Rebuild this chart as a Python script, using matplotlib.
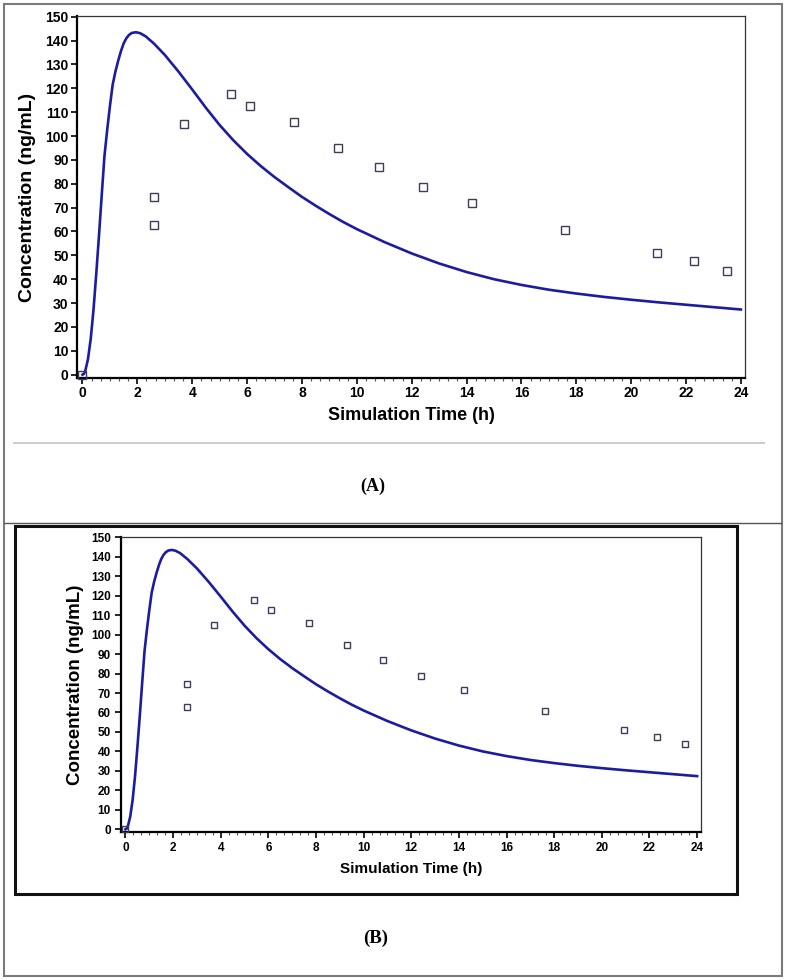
import matplotlib
matplotlib.use("Agg")
import matplotlib.pyplot as plt
from matplotlib.lines import Line2D
from matplotlib.patches import Rectangle
from matplotlib.ticker import AutoMinorLocator

# ---------------- data ----------------
time_sim = [0, 0.05, 0.1, 0.2, 0.3, 0.4, 0.5, 0.6, 0.7, 0.8, 0.9, 1.0, 1.1, 1.2, 1.3,
            1.4, 1.5, 1.6, 1.7, 1.8, 1.95, 2.1, 2.3, 2.6, 3.0, 3.5, 4.0, 4.5, 5.0,
            5.5, 6.0, 6.5, 7.0, 7.5, 8.0, 8.5, 9.0, 9.5, 10, 11, 12, 13, 14,
            15, 16, 17, 18, 19, 20, 21, 22, 23, 24]
conc_sim = [0, 0.3, 1.5, 6.5, 15, 27, 42, 58, 75, 91.5, 102.5, 112.5, 121.5, 127, 131.5,
            135.5, 138.8, 141, 142.4, 143.2, 143.5, 143.1, 141.8, 138.8, 134, 127, 119.5, 111.8, 104.6,
            98.2, 92.5, 87.4, 82.8, 78.6, 74.5, 70.8, 67.3, 64.0, 61.0, 55.6, 50.8, 46.6, 43.0,
            40.0, 37.6, 35.6, 34.0, 32.6, 31.4, 30.3, 29.3, 28.3, 27.3]

time_obs = [0, 2.6, 2.6, 3.7, 5.4, 6.1, 7.7, 9.3, 10.8, 12.4, 14.2, 17.6, 20.95, 22.3, 23.5]
conc_obs = [0, 74.5, 62.8, 105, 117.8, 112.5, 106, 94.8, 87.2, 78.5, 71.8, 60.8, 50.8, 47.6, 43.6]

x_ticks = list(range(0, 25, 2))
y_ticks = list(range(0, 151, 10))
panel_labels = ["(A)", "(B)"]
x_label = "Simulation Time (h)"
y_label = "Concentration (ng/mL)"

# ---------------- style ----------------
plt.rcParams['font.family'] = ['Liberation Sans', 'DejaVu Sans']
plt.rcParams['font.weight'] = 'bold'

W, H = 787, 980
fig = plt.figure(figsize=(W / 100, H / 100), dpi=100)
fig.patch.set_facecolor('white')


def fx(px):
    return px / W


def fy(py):
    return 1 - py / H


def hline(x0, x1, y, color, lw):
    fig.add_artist(Line2D([fx(x0), fx(x1)], [fy(y), fy(y)], transform=fig.transFigure,
                          color=color, lw=lw, solid_capstyle='butt'))


line_color = '#1c1ca0'
marker_edge = '#3c3c5c'


def make_panel(rect_px, tick_fs, xl_fs, yl_fs, msize, ylab_x, xlab_pad, tick_pad):
    l, t, r, b = rect_px
    ax = fig.add_axes([fx(l), fy(b), fx(r - l), (b - t) / H])
    ax.plot(time_sim, conc_sim, color=line_color, lw=1.9, zorder=3,
            solid_joinstyle='round')
    ax.plot(time_obs, conc_obs, linestyle='none', marker='s', markersize=msize,
            markerfacecolor='none', markeredgecolor=marker_edge, markeredgewidth=1.0,
            clip_on=False, zorder=4)
    ax.set_xlim(-0.2, 24.15)
    ax.set_ylim(-1.4, 150.3)
    ax.set_xticks(x_ticks)
    ax.set_yticks(y_ticks)
    ax.xaxis.set_minor_locator(AutoMinorLocator(6))
    ax.tick_params(axis='both', which='major', direction='out', length=4, width=1.2,
                   labelsize=tick_fs, pad=tick_pad, color='black')
    ax.tick_params(axis='x', which='minor', direction='out', length=2, width=0.8, color='#555555')
    for lab in ax.get_xticklabels() + ax.get_yticklabels():
        lab.set_fontweight('bold')
    for s in ['left', 'bottom']:
        ax.spines[s].set_linewidth(1.6)
        ax.spines[s].set_color('black')
    for s in ['top', 'right']:
        ax.spines[s].set_linewidth(0.9)
        ax.spines[s].set_color('#333333')
    ax.set_xlabel(x_label, fontsize=xl_fs, fontweight='bold', labelpad=xlab_pad)
    ax.set_ylabel(y_label, fontsize=yl_fs, fontweight='bold')
    ax.yaxis.set_label_coords((ylab_x - l) / (r - l), 0.5)
    return ax


# top panel (A)
make_panel((77, 16, 745, 378), tick_fs=10, xl_fs=13, yl_fs=14, msize=5.5,
           ylab_x=36, xlab_pad=5, tick_pad=2)
# bottom panel (B)
make_panel((120.7, 536.7, 700.7, 832), tick_fs=8.5, xl_fs=11, yl_fs=13.5, msize=4.6,
           ylab_x=84, xlab_pad=6, tick_pad=3)

# frames and separators
fig.add_artist(Rectangle((fx(4), fy(976)), fx(778), (976 - 4) / H, transform=fig.transFigure,
                         fill=False, edgecolor='#7a7a7a', lw=1.5))
hline(4, 782, 523, '#555555', 1.0)
hline(13, 765, 443, '#c8c8c8', 1.3)
fig.add_artist(Rectangle((fx(15), fy(893.5)), fx(722), (893.5 - 525.5) / H, transform=fig.transFigure,
                         fill=False, edgecolor='#111111', lw=2.2))

fig.text(fx(373), fy(486), panel_labels[0], ha='center', va='center', fontsize=13,
         fontweight='bold', family=['Liberation Serif', 'DejaVu Serif'])
fig.text(fx(376), fy(938), panel_labels[1], ha='center', va='center', fontsize=13.5,
         fontweight='bold', family=['Liberation Serif', 'DejaVu Serif'])

fig.savefig('out.png', dpi=100, facecolor='white')
